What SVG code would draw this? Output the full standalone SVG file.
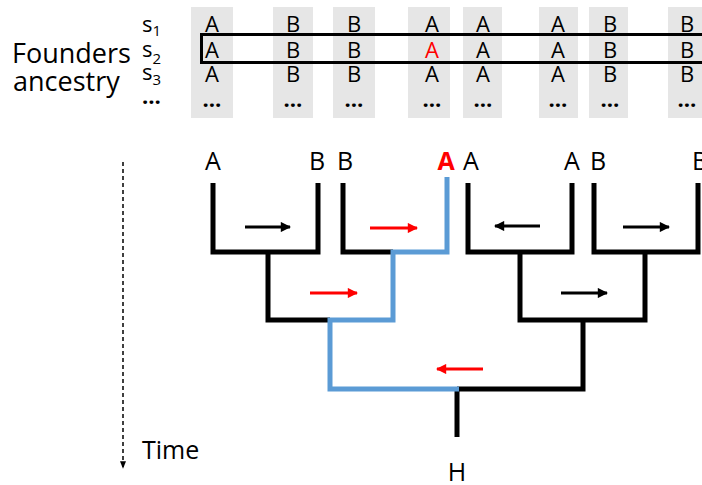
<svg xmlns="http://www.w3.org/2000/svg" width="702" height="485" viewBox="0 0 702 485">
<style>
text{font-family:"Open Sans","Liberation Sans",sans-serif;fill:#000}
.col{fill:#e6e6e6}
.cell{font-size:22px;text-anchor:middle}
.dots{font-size:22px;font-weight:bold}
.leaf{font-size:25px;text-anchor:middle}
.br{fill:none;stroke:#000;stroke-width:5;stroke-linejoin:miter;stroke-linecap:butt}
.blue{fill:none;stroke:#5b9bd5;stroke-width:5;stroke-linejoin:miter;stroke-linecap:butt}
.ak{stroke:#000;stroke-width:3}
.ar{stroke:#ff0000;stroke-width:3}
</style>
<defs>
<marker id="hk" viewBox="0 0 10 10" refX="9" refY="5" markerWidth="4" markerHeight="3.4" orient="auto" markerUnits="strokeWidth"><path d="M0,0 L10,5 L0,10 z" fill="#000"/></marker>
<marker id="hr" viewBox="0 0 10 10" refX="9" refY="5" markerWidth="4" markerHeight="3.4" orient="auto" markerUnits="strokeWidth"><path d="M0,0 L10,5 L0,10 z" fill="#ff0000"/></marker>
<marker id="ht" viewBox="0 0 10 10" refX="9" refY="5" markerWidth="5" markerHeight="5" orient="auto" markerUnits="strokeWidth"><path d="M0,1 L10,5 L0,9 z" fill="#000"/></marker>
</defs>
<rect width="702" height="485" fill="#fff"/>

<g id="founders-label">
<text x="12" y="63" font-size="27">Founders</text>
<text x="13" y="91" font-size="27">ancestry</text>
</g>
<g id="sample-labels" font-size="22">
<text x="142" y="32">s<tspan font-size="15" dy="4">1</tspan></text>
<text x="142" y="57">s<tspan font-size="15" dy="7">2</tspan></text>
<text x="142" y="80">s<tspan font-size="15" dy="5">3</tspan></text>
<text x="142" y="104" class="dots" font-size="20">…</text>
</g>

<g id="columns">
<rect class="col" x="191" y="7" width="42" height="111"/>
<rect class="col" x="273" y="7" width="40" height="111"/>
<rect class="col" x="333" y="7" width="42" height="111"/>
<rect class="col" x="408" y="7" width="42" height="111"/>
<rect class="col" x="463" y="7" width="39" height="111"/>
<rect class="col" x="539" y="7" width="39" height="111"/>
<rect class="col" x="589" y="7" width="39" height="111"/>
<rect class="col" x="668" y="7" width="34" height="111"/>
</g>
<g id="cells">
<g class="cell"><text x="212" y="32">A</text><text x="212" y="58">A</text><text x="212" y="82">A</text><text x="212" y="107" class="dots">…</text></g>
<g class="cell"><text x="293" y="32">B</text><text x="293" y="58">B</text><text x="293" y="82">B</text><text x="293" y="107" class="dots">…</text></g>
<g class="cell"><text x="354" y="32">B</text><text x="354" y="58">B</text><text x="354" y="82">B</text><text x="354" y="107" class="dots">…</text></g>
<g class="cell"><text x="432" y="32">A</text><text x="432" y="58" style="fill:#ff0000">A</text><text x="432" y="82">A</text><text x="432" y="107" class="dots">…</text></g>
<g class="cell"><text x="483" y="32">A</text><text x="483" y="58">A</text><text x="483" y="82">A</text><text x="483" y="107" class="dots">…</text></g>
<g class="cell"><text x="558" y="32">A</text><text x="558" y="58">A</text><text x="558" y="82">A</text><text x="558" y="107" class="dots">…</text></g>
<g class="cell"><text x="610" y="32">B</text><text x="610" y="58">B</text><text x="610" y="82">B</text><text x="610" y="107" class="dots">…</text></g>
<g class="cell"><text x="687" y="32">B</text><text x="687" y="58">B</text><text x="687" y="82">B</text><text x="687" y="107" class="dots">…</text></g>
</g>
<rect id="s2-box" x="201.5" y="34.5" width="510" height="28" fill="none" stroke="#000" stroke-width="3"/>

<g id="leaf-1"><text class="leaf" x="213" y="170">A</text></g>
<g id="leaf-2"><text class="leaf" x="317" y="170">B</text></g>
<g id="leaf-3"><text class="leaf" x="345" y="170">B</text></g>
<g id="leaf-4"><text class="leaf" x="446" y="170" style="fill:#ff0000;font-weight:bold">A</text></g>
<g id="leaf-5"><text class="leaf" x="471" y="170">A</text></g>
<g id="leaf-6"><text class="leaf" x="572" y="170">A</text></g>
<g id="leaf-7"><text class="leaf" x="598" y="170">B</text></g>
<g id="leaf-8"><text class="leaf" x="700" y="170">B</text></g>
<g id="root-H"><text class="leaf" x="457" y="481">H</text></g>

<g id="connectors">
<polyline class="br" points="213,183 213,252 318,252 318,183"/>
<polyline class="br" points="343,183 343,252 393,252"/>
<polyline class="br" points="468,183 468,252 572,252 572,183"/>
<polyline class="br" points="594,183 594,252 698,252 698,183"/>
<polyline class="br" points="268,252 268,320 330,320"/>
<polyline class="br" points="520,252 520,320 645,320 645,252"/>
<polyline class="br" points="457,389 583,389 583,320"/>
<line class="br" x1="457" y1="389" x2="457" y2="437"/>
<polyline class="blue" points="447,177 447,252 393,252 393,320 330,320 330,389 459,389"/>

<line class="ak" x1="245" y1="227" x2="290" y2="227" marker-end="url(#hk)"/>
<line class="ar" x1="370" y1="228" x2="417" y2="228" marker-end="url(#hr)"/>
<line class="ar" x1="310" y1="293" x2="357" y2="293" marker-end="url(#hr)"/>
<line class="ak" x1="540" y1="226" x2="495" y2="226" marker-end="url(#hk)"/>
<line class="ak" x1="623" y1="227" x2="669" y2="227" marker-end="url(#hk)"/>
<line class="ak" x1="561" y1="293" x2="607" y2="293" marker-end="url(#hk)"/>
<line class="ar" x1="483" y1="369" x2="437" y2="369" marker-end="url(#hr)"/>
</g>

<g id="time-axis">
<line x1="123" y1="162" x2="123" y2="468" stroke="#000" stroke-width="1.5" stroke-dasharray="4,3" marker-end="url(#ht)"/>
<text x="142" y="459" font-size="25">Time</text>
</g>
</svg>
